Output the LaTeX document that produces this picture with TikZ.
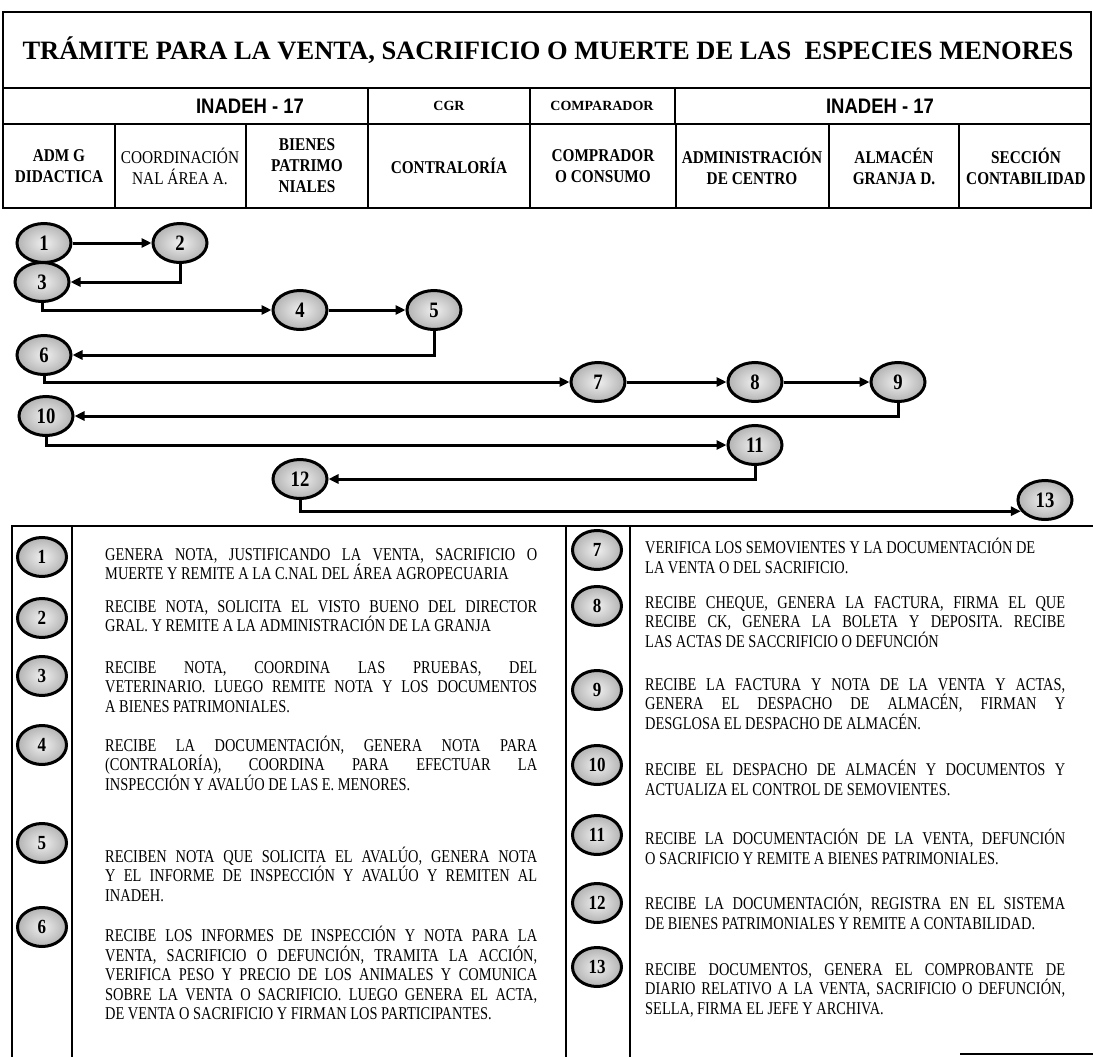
\documentclass[tikz,border=0pt]{standalone}
\usepackage{fontspec}
\setmainfont{Liberation Serif}
\setsansfont{Liberation Sans}
\newfontfamily\angosta[FakeStretch=0.85]{Liberation Serif}
\newfontfamily\textoley[FakeStretch=0.8]{Liberation Serif}
\newfontfamily\sansangosta[FakeStretch=0.88]{Liberation Sans}
\usetikzlibrary{shapes.geometric,arrows.meta,positioning}

% renglon justificado de la leyenda
\newcommand{\lj}[2][432pt]{\makebox[#1][s]{#2}}

\begin{document}
\begin{tikzpicture}[x=1pt, y=-1pt,
  paso/.style={ellipse, draw=black, line width=3pt, inner sep=0pt,
    minimum width=54pt, minimum height=39pt,
    inner color=gray!12, outer color=gray!60,
    font=\fontsize{22}{22}\angosta\bfseries},
  ley/.style={paso, minimum width=49pt, minimum height=39pt,
    font=\fontsize{20}{20}\angosta\bfseries},
  flujo/.style={line width=3pt, -{Triangle[length=10pt, width=9pt]}},
  marco/.style={line width=1.6pt},
  celda/.style={font=\fontsize{18}{21}\angosta\bfseries, align=center},
  unidad/.style={font=\fontsize{21}{21}\sansangosta\bfseries},
  desc/.style={anchor=west, align=left, inner sep=0pt,
    font=\fontsize{18}{19.5}\textoley},
]
  \fill[white] (0,0) rectangle (1093,1057);
  \useasboundingbox (0,0) rectangle (1093,1057);

  % Encabezado
  \draw[marco] (3,12) rectangle (1091,208);
  \draw[marco] (3,88) -- (1091,88);
  \draw[marco] (3,124) -- (1091,124);
  \foreach \x in {368,530,675} \draw[marco] (\x,88) -- (\x,124);
  \foreach \x in {115,246,368,530,676,829,959} \draw[marco] (\x,124) -- (\x,208);

  \node[font=\fontsize{26.5}{26.5}\selectfont\bfseries] (titulo) at (548,50)
    {TRÁMITE PARA LA VENTA, SACRIFICIO O MUERTE DE LAS\ \ ESPECIES MENORES};
  \node[unidad] (inadeh1) at (250,106) {INADEH - 17};
  \node[font=\fontsize{14}{14}\selectfont\bfseries] (cgr) at (449,106) {CGR};
  \node[font=\fontsize{14}{14}\selectfont\bfseries] (comparador) at (602,106) {COMPARADOR};
  \node[unidad] (inadeh2) at (880,106) {INADEH - 17};

  \node[celda] (adm) at (59,166) {ADM G\\DIDACTICA};
  \node[celda] (coord) at (180,166) {\mdseries COORDINACIÓN\\\mdseries NAL ÁREA A.};
  \node[celda] (bienes) at (307,166) {BIENES\\PATRIMO\\NIALES};
  \node[celda] (contra) at (449,166) {CONTRALORÍA};
  \node[celda] (compra) at (603,166) {COMPRADOR\\O CONSUMO};
  \node[celda] (admin) at (752,166) {ADMINISTRACIÓN\\DE CENTRO};
  \node[celda] (almacen) at (894,166) {ALMACÉN\\GRANJA D.};
  \node[celda] (seccion) at (1026,166) {SECCIÓN\\CONTABILIDAD};

  % Pasos del flujo
  \node[paso] (n1) at (44,243) {1};
  \node[paso] (n2) at (180,243) {2};
  \node[paso] (n3) at (42,282) {3};
  \node[paso] (n4) at (300,310) {4};
  \node[paso] (n5) at (434,310) {5};
  \node[paso] (n6) at (44,355) {6};
  \node[paso] (n7) at (598,382) {7};
  \node[paso] (n8) at (755,382) {8};
  \node[paso] (n9) at (898,382) {9};
  \node[paso] (n10) at (46,416) {10};
  \node[paso] (n11) at (755,445) {11};
  \node[paso] (n12) at (300,479) {12};
  \node[paso] (n13) at (1045,500) {13};

  \draw[flujo] (n1) -- (n2);
  \draw[flujo] (n2.south) |- (n3.east);
  \draw[flujo] (n3.south) |- (n4.west);
  \draw[flujo] (n4) -- (n5);
  \draw[flujo] (n5.south) |- (n6.east);
  \draw[flujo] (n6.south) |- (n7.west);
  \draw[flujo] (n7) -- (n8);
  \draw[flujo] (n8) -- (n9);
  \draw[flujo] (n9.south) |- (n10.east);
  \draw[flujo] (n10.south) |- (n11.west);
  \draw[flujo] (n11.south) |- (n12.east);
  \draw[flujo] (n12.south) |- (n13.205);

  % Leyenda
  \draw[marco] (12,1057) -- (12,526) -- (1093,526);
  \draw[marco] (72,526) -- (72,1057);
  \draw[marco] (566,526) -- (566,1057);
  \draw[marco] (630,526) -- (630,1057);
  \draw[line width=2.5pt] (960,1054) -- (1093,1054);

  \node[ley] (l1) at (42,557) {1};
  \node[ley] (l2) at (42,618) {2};
  \node[ley] (l3) at (42,676) {3};
  \node[ley] (l4) at (42,745) {4};
  \node[ley] (l5) at (42,843) {5};
  \node[ley] (l6) at (42,927) {6};
  \node[ley] (l7) at (597,550) {7};
  \node[ley] (l8) at (597,606) {8};
  \node[ley] (l9) at (597,690) {9};
  \node[ley] (l10) at (597,765) {10};
  \node[ley] (l11) at (597,835) {11};
  \node[ley] (l12) at (597,903) {12};
  \node[ley] (l13) at (597,967) {13};

  \node[desc] (d1) at (105,564)
    {\lj{GENERA NOTA, JUSTIFICANDO LA VENTA, SACRIFICIO O}\\
     MUERTE Y REMITE A LA C.NAL DEL ÁREA AGROPECUARIA};
  \node[desc] (d2) at (105,616)
    {\lj{RECIBE NOTA, SOLICITA EL VISTO BUENO DEL DIRECTOR}\\
     GRAL. Y REMITE A LA ADMINISTRACIÓN DE LA GRANJA};
  \node[desc] (d3) at (105,687)
    {\lj{RECIBE NOTA, COORDINA LAS PRUEBAS, DEL}\\
     \lj{VETERINARIO. LUEGO REMITE NOTA Y LOS DOCUMENTOS}\\
     A BIENES PATRIMONIALES.};
  \node[desc] (d4) at (105,763)
    {\lj{RECIBE LA DOCUMENTACIÓN, GENERA NOTA PARA}\\
     \lj{(CONTRALORÍA), COORDINA PARA EFECTUAR LA}\\
     INSPECCIÓN Y AVALÚO DE LAS E. MENORES.};
  \node[desc] (d5) at (105,874)
    {\lj{RECIBEN NOTA QUE SOLICITA EL AVALÚO, GENERA NOTA}\\
     \lj{Y EL INFORME DE INSPECCIÓN Y AVALÚO Y REMITEN AL}\\
     INADEH.};
  \node[desc] (d6) at (105,973)
    {\lj{RECIBE LOS INFORMES DE INSPECCIÓN Y NOTA PARA LA}\\
     \lj{VENTA, SACRIFICIO O DEFUNCIÓN, TRAMITA LA ACCIÓN,}\\
     \lj{VERIFICA PESO Y PRECIO DE LOS ANIMALES Y COMUNICA}\\
     \lj{SOBRE LA VENTA O SACRIFICIO. LUEGO GENERA EL ACTA,}\\
     DE VENTA O SACRIFICIO Y FIRMAN LOS PARTICIPANTES.};

  \node[desc] (d7) at (645,556)
    {VERIFICA LOS SEMOVIENTES Y LA DOCUMENTACIÓN DE\\
     LA VENTA O DEL SACRIFICIO.};
  \node[desc] (d8) at (645,622)
    {\lj[420pt]{RECIBE CHEQUE, GENERA LA FACTURA, FIRMA EL QUE}\\
     \lj[420pt]{RECIBE CK, GENERA LA BOLETA Y DEPOSITA. RECIBE}\\
     LAS ACTAS DE SACCRIFICIO O DEFUNCIÓN};
  \node[desc] (d9) at (645,704)
    {\lj[420pt]{RECIBE LA FACTURA Y NOTA DE LA VENTA Y ACTAS,}\\
     \lj[420pt]{GENERA EL DESPACHO DE ALMACÉN, FIRMAN Y}\\
     DESGLOSA EL DESPACHO DE ALMACÉN.};
  \node[desc] (d10) at (645,778)
    {\lj[420pt]{RECIBE EL DESPACHO DE ALMACÉN Y DOCUMENTOS Y}\\
     ACTUALIZA EL CONTROL DE SEMOVIENTES.};
  \node[desc] (d11) at (645,847)
    {\lj[420pt]{RECIBE LA DOCUMENTACIÓN DE LA VENTA, DEFUNCIÓN}\\
     O SACRIFICIO Y REMITE A BIENES PATRIMONIALES.};
  \node[desc] (d12) at (645,912)
    {\lj[420pt]{RECIBE LA DOCUMENTACIÓN, REGISTRA EN EL SISTEMA}\\
     DE BIENES PATRIMONIALES Y REMITE A CONTABILIDAD.};
  \node[desc] (d13) at (645,990)
    {\lj[420pt]{RECIBE DOCUMENTOS, GENERA EL COMPROBANTE DE}\\
     \lj[420pt]{DIARIO RELATIVO A LA VENTA, SACRIFICIO O DEFUNCIÓN,}\\
     SELLA, FIRMA EL JEFE Y ARCHIVA.};
\end{tikzpicture}
\end{document}
